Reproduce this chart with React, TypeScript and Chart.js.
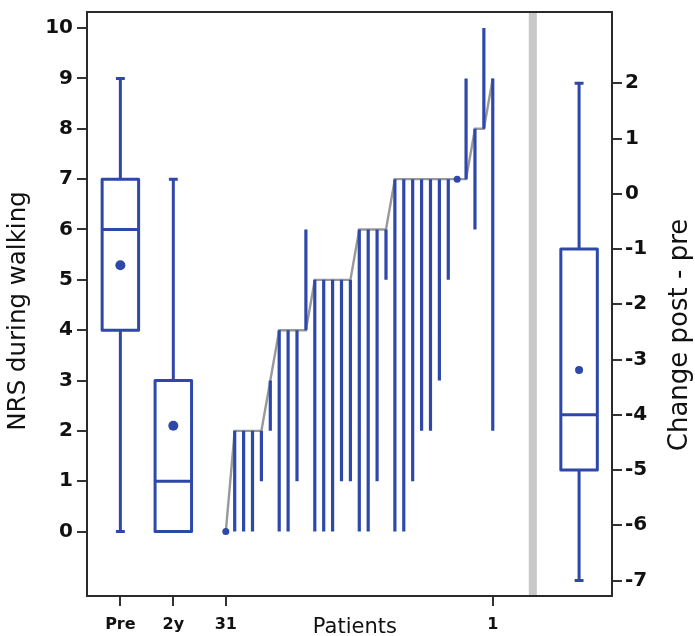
import React, { useEffect, useRef } from 'react';
import { Chart, registerables } from 'chart.js';
Chart.register(...registerables);

// Patients ordered left to right (31 ... 1)
const patientIds = [31, 30, 29, 28, 27, 26, 25, 24, 23, 22, 21, 20, 19, 18, 17, 16, 15, 14, 13, 12, 11, 10, 9, 8, 7, 6, 5, 4, 3, 2, 1];
const prePain = [0, 2, 2, 2, 2, 3, 4, 4, 4, 4, 5, 5, 5, 5, 5, 6, 6, 6, 6, 7, 7, 7, 7, 7, 7, 7, 7, 7, 8, 8, 9];
const postPain = [0, 0, 0, 0, 1, 2, 0, 0, 1, 6, 0, 0, 0, 1, 1, 0, 0, 1, 5, 0, 0, 1, 2, 2, 3, 5, 7, 9, 6, 10, 2];

// Box plot summaries: Pre, 2y (left axis) and Change post - pre (right axis)
const boxGroups = ['Pre', '2y', 'Change'];
const boxMin = [0, 0, -7];
const boxQ1 = [4, 0, -5];
const boxMedian = [6, 1, -4];
const boxQ3 = [7, 3, -1];
const boxMax = [9, 7, 2];
const boxMean = [5.29, 2.1, -3.19];

const xTickLabels = ['Pre', '2y', '31', 'Patients', '1'];
const leftTicks = [0, 1, 2, 3, 4, 5, 6, 7, 8, 9, 10];
const rightTicks = [-7, -6, -5, -4, -3, -2, -1, 0, 1, 2];

// layout positions on the x scale (patient slot units)
const boxX = [-11.85, -5.9, 39.7];
const boxAxis = ['y', 'y', 'y2'];
const xTickValues = [-11.85, -5.9, 0, 14.5, 30];
const SEP_X = 34.5;
const HALF_W = 2.05;
const CAP_W = 0.5;

const BLUE = '#2e48aa';
const FONT = '"DejaVu Sans", Verdana, sans-serif';

export default function App() {
  const ref = useRef<HTMLCanvasElement | null>(null);
  useEffect(() => {
    const canvas = ref.current;
    if (!canvas) return;

    const datasets: any[] = [];

    // gray connecting line through pre values
    datasets.push({
      type: 'line',
      data: prePain.map((v, i) => ({ x: i, y: v })),
      borderColor: '#999999',
      borderWidth: 2.4,
      pointRadius: 0,
      yAxisID: 'y',
      order: 5,
    });

    // patient vertical lines pre -> post
    const segs: any[] = [];
    patientIds.forEach((_, i) => {
      segs.push({ x: i, y: prePain[i] });
      segs.push({ x: i, y: postPain[i] });
      segs.push({ x: i, y: null });
    });
    datasets.push({
      type: 'line',
      data: segs,
      borderColor: BLUE,
      borderWidth: 3.2,
      borderCapStyle: 'butt',
      pointRadius: 0,
      spanGaps: false,
      yAxisID: 'y',
      order: 4,
    });

    // dots where no change
    datasets.push({
      type: 'line',
      data: patientIds
        .map((_, i) => ({ x: i, y: prePain[i], same: prePain[i] === postPain[i] }))
        .filter((p) => p.same)
        .map((p) => ({ x: p.x, y: p.y })),
      showLine: false,
      pointRadius: 3.5,
      pointBackgroundColor: BLUE,
      pointBorderWidth: 0,
      yAxisID: 'y',
      order: 3,
    });

    // box plots
    boxGroups.forEach((_, g) => {
      const x = boxX[g];
      const pts: any[] = [
        { x: x - HALF_W, y: boxQ1[g] },
        { x: x + HALF_W, y: boxQ1[g] },
        { x: x + HALF_W, y: boxQ3[g] },
        { x: x - HALF_W, y: boxQ3[g] },
        { x: x - HALF_W, y: boxQ1[g] },
        { x: x + HALF_W, y: boxQ1[g] },
        { x: x, y: null },
        { x: x - HALF_W, y: boxMedian[g] },
        { x: x + HALF_W, y: boxMedian[g] },
        { x: x, y: null },
      ];
      if (boxMax[g] > boxQ3[g]) {
        pts.push({ x: x, y: boxQ3[g] }, { x: x, y: boxMax[g] }, { x: x, y: null });
        pts.push({ x: x - CAP_W, y: boxMax[g] }, { x: x + CAP_W, y: boxMax[g] }, { x: x, y: null });
      }
      if (boxMin[g] < boxQ1[g]) {
        pts.push({ x: x, y: boxQ1[g] }, { x: x, y: boxMin[g] }, { x: x, y: null });
        pts.push({ x: x - CAP_W, y: boxMin[g] }, { x: x + CAP_W, y: boxMin[g] }, { x: x, y: null });
      }
      datasets.push({
        type: 'line',
        data: pts,
        borderColor: BLUE,
        borderWidth: 3,
        borderJoinStyle: 'round',
        borderCapStyle: 'butt',
        pointRadius: 0,
        spanGaps: false,
        yAxisID: boxAxis[g],
        order: 2,
      });
      datasets.push({
        type: 'line',
        data: [{ x: x, y: boxMean[g] }],
        showLine: false,
        pointRadius: g === 2 ? 4 : 5,
        pointBackgroundColor: BLUE,
        pointBorderWidth: 0,
        yAxisID: boxAxis[g],
        order: 1,
      });
    });

    const decor = {
      id: 'decor',
      beforeDatasetsDraw(chart: any) {
        const { ctx, chartArea } = chart;
        const xs = chart.scales.x;
        const sx = xs.getPixelForValue(SEP_X);
        ctx.save();
        ctx.fillStyle = '#c8c8c8';
        ctx.fillRect(sx - 4, chartArea.top, 8, chartArea.bottom - chartArea.top);
        ctx.restore();
      },
      afterDraw(chart: any) {
        const { ctx, chartArea } = chart;
        ctx.save();
        ctx.strokeStyle = '#2a2a2a';
        ctx.lineWidth = 2;
        ctx.strokeRect(chartArea.left, chartArea.top, chartArea.right - chartArea.left, chartArea.bottom - chartArea.top);
        ctx.fillStyle = '#111';
        ctx.textAlign = 'center';
        ctx.textBaseline = 'middle';
        ctx.font = `24.5px ${FONT}`;
        ctx.translate(19, 311);
        ctx.rotate(-Math.PI / 2);
        ctx.fillText('NRS during walking', 0, 0);
        ctx.restore();
        ctx.save();
        ctx.fillStyle = '#111';
        ctx.textAlign = 'center';
        ctx.textBaseline = 'middle';
        ctx.font = `26px ${FONT}`;
        ctx.translate(680, 335);
        ctx.rotate(-Math.PI / 2);
        ctx.fillText('Change post - pre', 0, 0);
        ctx.restore();
      },
    };

    const chart = new Chart(canvas, {
      type: 'line',
      data: { datasets },
      options: {
        animation: false,
        responsive: false,
        events: [],
        layout: { padding: { top: 12, left: 0, right: 0, bottom: 0 } },
        plugins: { legend: { display: false }, tooltip: { enabled: false } },
        scales: {
          x: {
            type: 'linear',
            min: -15.6,
            max: 43.4,
            border: { display: false },
            grid: {
              drawOnChartArea: false,
              drawTicks: true,
              tickLength: 10,
              lineWidth: 2,
              tickColor: (c: any) => (c.tick && c.tick.label === 'Patients' ? 'rgba(0,0,0,0)' : '#333'),
            },
            afterBuildTicks: (s: any) => {
              s.ticks = xTickValues.map((v) => ({ value: v }));
            },
            ticks: {
              autoSkip: false,
              maxRotation: 0,
              padding: 9,
              color: '#111',
              font: (c: any) =>
                c.tick && c.tick.label === 'Patients'
                  ? { family: FONT, size: 21, weight: 'normal' }
                  : { family: FONT, size: 16, weight: 'bold' },
              callback: (v: any, i: number) => xTickLabels[i],
            },
            afterFit: (s: any) => {
              s.height = 40;
              s.paddingLeft = 0;
              s.paddingRight = 0;
            },
          },
          y: {
            type: 'linear',
            position: 'left',
            min: -1.28,
            max: 10.32,
            border: { display: false },
            grid: { drawOnChartArea: false, drawTicks: true, tickLength: 10, lineWidth: 2, tickColor: '#333' },
            afterBuildTicks: (s: any) => {
              s.ticks = leftTicks.map((v) => ({ value: v }));
            },
            ticks: {
              padding: 4,
              color: '#111',
              font: { family: FONT, size: 20, weight: 'bold' },
              callback: (v: any) => String(v),
            },
            afterFit: (s: any) => {
              s.width = 87;
              s.paddingTop = 0;
              s.paddingBottom = 0;
            },
          },
          y2: {
            type: 'linear',
            position: 'right',
            min: -7.28,
            max: 3.29,
            border: { display: false },
            grid: { drawOnChartArea: false, drawTicks: true, tickLength: 10, lineWidth: 2, tickColor: '#333' },
            afterBuildTicks: (s: any) => {
              s.ticks = rightTicks.map((v) => ({ value: v }));
            },
            ticks: {
              padding: 3,
              color: '#111',
              font: { family: FONT, size: 20, weight: 'bold' },
              callback: (v: any) => String(v),
            },
            afterFit: (s: any) => {
              s.width = 83;
              s.paddingTop = 0;
              s.paddingBottom = 0;
            },
          },
        },
      },
      plugins: [decor],
    });
    return () => chart.destroy();
  }, []);

  return (
    <div style={{ position: 'absolute', left: 0, top: 0, width: 695, height: 636, background: '#fff' }}>
      <canvas ref={ref} width={695} height={636} style={{ display: 'block' }} />
    </div>
  );
}
